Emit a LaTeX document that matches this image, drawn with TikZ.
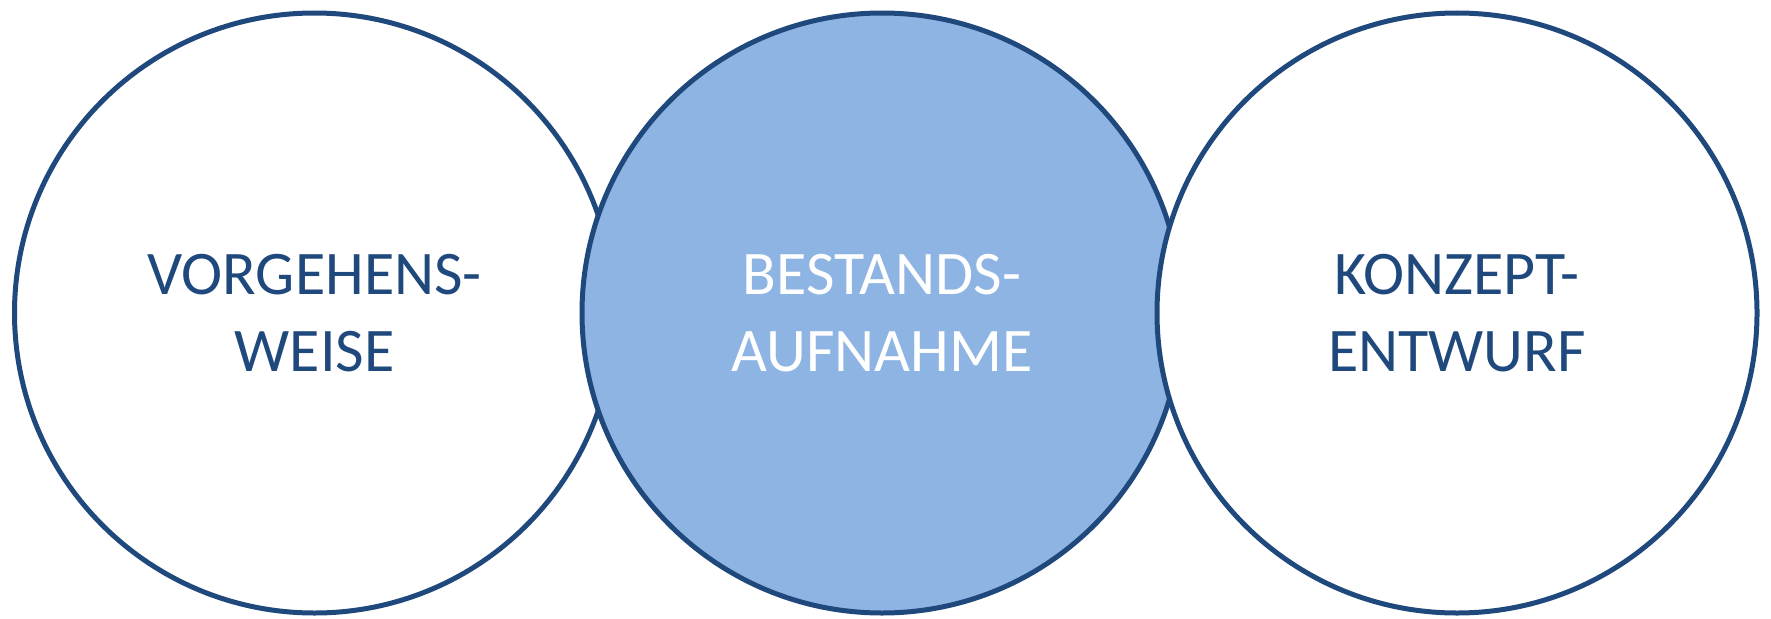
\documentclass[tikz,border=0pt]{standalone}
\usepackage{fontspec}
\setmainfont{Carlito}
\definecolor{ringblue}{HTML}{1F497D}
\definecolor{midfill}{HTML}{8EB4E3}
\begin{document}
\begin{tikzpicture}[x=1pt,y=-1pt,
  phase/.style={circle, draw=ringblue, line width=5pt, minimum size=600pt, inner sep=0pt},
  label/.style={align=center, font=\fontsize{62}{77}\selectfont, inner sep=0pt}]
  \useasboundingbox (0,0) rectangle (1771,618);
  % the three phases, each drawn over its left neighbour
  \node[phase, fill=white]   (vor) at (314.5,313) {};
  \node[phase, fill=midfill] (bes) at (882,313) {};
  \node[phase, fill=white]   (kon) at (1457,313) {};
  \node[label, text=ringblue] at (vor.center) {VORGEHENS-\\WEISE};
  \node[label, text=white]    at (bes.center) {BESTANDS-\\AUFNAHME};
  \node[label, text=ringblue] at (kon.center) {KONZEPT-\\ENTWURF};
\end{tikzpicture}
\end{document}
